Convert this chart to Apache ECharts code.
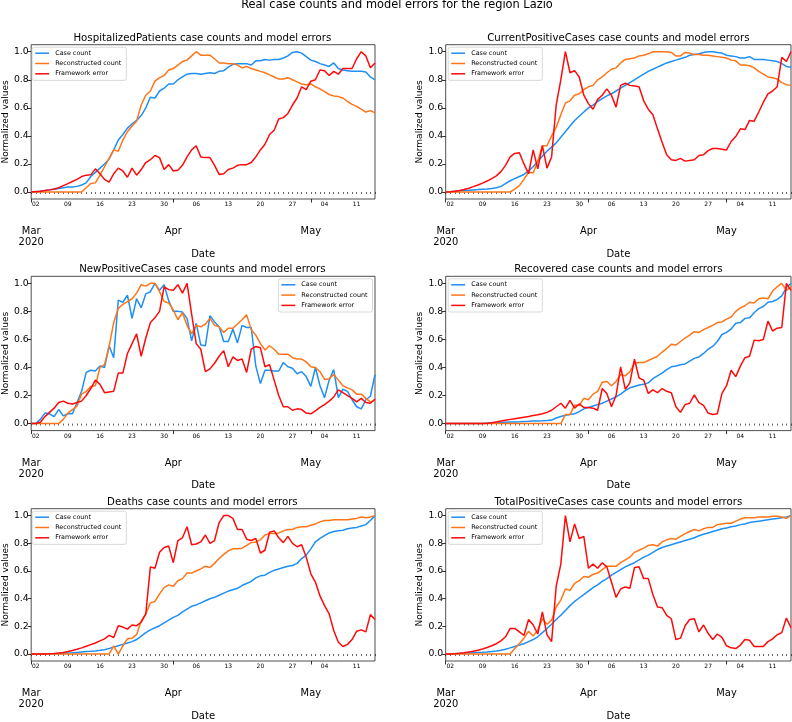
<!DOCTYPE html>
<html>
<head>
<meta charset="utf-8">
<script src="https://cdn.jsdelivr.net/npm/echarts@6/dist/echarts.min.js"></script>
<style>html,body{margin:0;padding:0;background:#fff}#chart{width:792px;height:722px}</style>
</head>
<body>
<div id="chart"></div>
<script>
// ---------------- data ----------------
const mainTitle = 'Real case counts and model errors for the region Lazio';
const panelTitles = [
  'HospitalizedPatients case counts and model errors',
  'CurrentPositiveCases case counts and model errors',
  'NewPositiveCases case counts and model errors',
  'Recovered case counts and model errors',
  'Deaths case counts and model errors',
  'TotalPositiveCases case counts and model errors'
];
const seriesNames = ['Case count', 'Reconstructed count', 'Framework error'];
const startDate = '2020-03-01';
const endDate = '2020-05-15';
const weekTickDates = ['2020-03-02','2020-03-09','2020-03-16','2020-03-23','2020-03-30','2020-04-06','2020-04-13','2020-04-20','2020-04-27','2020-05-04','2020-05-11'];
const weekTickLabels = ['02','09','16','23','30','06','13','20','27','04','11'];
const monthTickDates = ['2020-03-01','2020-04-01','2020-05-01'];
const monthTickLabels = ['Mar\n2020','Apr','May'];
const yTicks = [0, 0.2, 0.4, 0.6, 0.8, 1.0];

const hospCase = [0,0,0.005,0.01,0.015,0.02,0.025,0.03,0.035,0.035,
 0.04,0.05,0.065,0.11,0.14,0.17,0.20,0.235,0.30,0.37,
 0.41,0.455,0.485,0.51,0.545,0.60,0.675,0.67,0.72,0.74,
 0.77,0.77,0.80,0.82,0.84,0.845,0.845,0.84,0.845,0.85,
 0.845,0.86,0.865,0.89,0.91,0.915,0.915,0.915,0.905,0.935,
 0.935,0.945,0.94,0.945,0.945,0.955,0.97,0.995,1.0,0.99,
 0.965,0.94,0.93,0.915,0.905,0.895,0.92,0.88,0.87,0.865,
 0.86,0.86,0.86,0.855,0.82,0.80];
const hospRecon = [0,0,0,0,0,0,0,0,0,0,
 0,0,0.03,0.06,0.065,0.12,0.18,0.24,0.30,0.29,
 0.37,0.43,0.47,0.505,0.62,0.69,0.72,0.79,0.815,0.83,
 0.87,0.88,0.905,0.93,0.94,0.97,1.0,0.975,0.975,0.975,
 0.95,0.92,0.92,0.915,0.915,0.905,0.885,0.895,0.88,0.87,
 0.86,0.85,0.835,0.82,0.805,0.805,0.815,0.80,0.785,0.77,
 0.765,0.77,0.75,0.735,0.715,0.695,0.685,0.68,0.67,0.645,
 0.625,0.61,0.59,0.57,0.58,0.565];
const hospErr = [0,0.003,0.006,0.01,0.015,0.022,0.03,0.045,0.06,0.075,
 0.09,0.11,0.12,0.122,0.165,0.13,0.09,0.07,0.13,0.17,
 0.15,0.105,0.17,0.12,0.16,0.21,0.23,0.26,0.245,0.16,
 0.195,0.15,0.155,0.19,0.25,0.30,0.33,0.25,0.245,0.245,
 0.19,0.125,0.13,0.16,0.17,0.19,0.195,0.195,0.21,0.25,
 0.30,0.34,0.41,0.44,0.52,0.53,0.56,0.62,0.67,0.75,
 0.73,0.79,0.80,0.87,0.865,0.83,0.86,0.84,0.88,0.88,
 0.88,0.95,1.0,0.97,0.885,0.92];

const currCase = [0,0.002,0.005,0.008,0.01,0.012,0.015,0.017,0.02,0.022,
 0.025,0.03,0.04,0.06,0.08,0.095,0.11,0.125,0.15,0.18,
 0.22,0.255,0.29,0.32,0.35,0.39,0.43,0.47,0.51,0.54,
 0.57,0.60,0.62,0.645,0.665,0.685,0.70,0.72,0.74,0.76,
 0.78,0.80,0.82,0.84,0.86,0.875,0.89,0.905,0.92,0.93,
 0.94,0.95,0.96,0.975,0.98,0.985,0.995,1.0,1.0,0.995,
 0.99,0.975,0.97,0.965,0.955,0.955,0.965,0.945,0.945,0.945,
 0.94,0.935,0.93,0.915,0.895,0.89];
const currRecon = [0,0,0,0,0,0,0,0,0,0,
 0,0,0,0,0,0.02,0.045,0.09,0.14,0.135,
 0.22,0.33,0.33,0.40,0.46,0.55,0.635,0.65,0.69,0.70,
 0.73,0.75,0.76,0.80,0.82,0.85,0.875,0.885,0.92,0.945,
 0.95,0.955,0.97,0.975,0.985,1.0,1.0,1.0,1.0,0.995,
 0.97,0.97,0.995,0.99,0.98,0.98,0.975,0.975,0.97,0.965,
 0.96,0.955,0.94,0.935,0.905,0.905,0.9,0.885,0.86,0.84,
 0.82,0.815,0.805,0.78,0.765,0.76];
const currErr = [0,0.002,0.005,0.01,0.018,0.027,0.038,0.05,0.063,0.078,
 0.095,0.115,0.145,0.19,0.25,0.275,0.28,0.2,0.13,0.30,
 0.165,0.33,0.17,0.25,0.62,0.80,1.0,0.85,0.865,0.82,
 0.69,0.63,0.59,0.66,0.69,0.735,0.69,0.605,0.76,0.775,
 0.76,0.755,0.75,0.65,0.59,0.55,0.45,0.355,0.265,0.23,
 0.225,0.24,0.22,0.225,0.23,0.26,0.265,0.295,0.31,0.31,
 0.305,0.30,0.36,0.395,0.45,0.445,0.51,0.505,0.57,0.64,
 0.70,0.72,0.75,0.96,0.93,1.0];

const newCase = [0,0,0.03,0.075,0.07,0.05,0.10,0.055,0.07,0.07,
 0.15,0.23,0.365,0.38,0.375,0.41,0.40,0.555,0.47,0.88,
 0.865,0.915,0.75,0.89,0.825,0.925,0.94,1.0,0.95,0.99,
 0.875,0.80,0.80,0.795,0.75,0.59,0.715,0.56,0.555,0.77,
 0.725,0.69,0.585,0.585,0.675,0.575,0.70,0.685,0.685,0.41,
 0.285,0.38,0.38,0.375,0.375,0.435,0.405,0.395,0.355,0.37,
 0.335,0.265,0.40,0.27,0.185,0.31,0.385,0.185,0.245,0.23,
 0.17,0.12,0.105,0.17,0.195,0.35];
const newRecon = [0,0,0,0,0,0,0,0.03,0.075,0.10,
 0.125,0.21,0.23,0.265,0.27,0.40,0.42,0.55,0.72,0.82,
 0.85,0.87,0.89,0.93,0.99,0.98,1.0,1.0,0.94,0.87,
 0.86,0.81,0.74,0.79,0.70,0.64,0.70,0.69,0.71,0.75,
 0.70,0.69,0.65,0.68,0.68,0.71,0.74,0.775,0.67,0.63,
 0.57,0.525,0.555,0.53,0.495,0.495,0.495,0.47,0.46,0.46,
 0.44,0.405,0.40,0.37,0.315,0.32,0.35,0.31,0.27,0.255,
 0.24,0.21,0.21,0.18,0.155,0.165];
const newErr = [0,0,0.01,0.05,0.08,0.11,0.15,0.16,0.145,0.14,
 0.15,0.16,0.20,0.25,0.31,0.28,0.22,0.225,0.23,0.36,
 0.36,0.50,0.57,0.64,0.48,0.61,0.72,0.755,0.80,0.975,
 0.955,0.95,0.99,0.93,1.0,0.78,0.57,0.53,0.37,0.39,
 0.43,0.48,0.52,0.405,0.475,0.45,0.46,0.365,0.53,0.55,
 0.54,0.405,0.42,0.31,0.20,0.12,0.12,0.095,0.105,0.10,
 0.075,0.07,0.09,0.115,0.135,0.16,0.19,0.24,0.22,0.20,
 0.18,0.155,0.18,0.15,0.145,0.175];

const recCase = [0,0,0,0,0,0,0,0,0,
 0.002,0.004,0.006,0.008,0.01,0.011,0.012,0.013,0.015,0.016,0.018,0.019,0.02,0.022,
 0.025,0.04,0.05,0.06,0.065,0.07,0.085,
 0.105,0.115,0.125,0.135,0.145,0.16,0.175,0.19,0.21,0.235,
 0.255,0.265,0.275,0.28,0.29,0.32,0.34,0.36,0.385,0.405,
 0.41,0.42,0.425,0.445,0.465,0.475,0.50,0.53,0.55,0.585,
 0.635,0.65,0.675,0.715,0.72,0.75,0.755,0.79,0.82,0.835,
 0.865,0.87,0.885,0.91,0.97,1.0];
const recRecon = [0,0,0,0,0,0,0,0,0,0,0,0,0,0,0,0,0,0,0,0,0,0,0,0,0,0,
 0.065,0.065,0.13,0.13,
 0.18,0.17,0.21,0.23,0.295,0.30,0.27,0.30,0.35,0.34,
 0.37,0.43,0.435,0.435,0.45,0.465,0.48,0.51,0.535,0.565,
 0.56,0.585,0.61,0.63,0.655,0.65,0.67,0.685,0.70,0.72,
 0.725,0.745,0.76,0.80,0.825,0.84,0.865,0.86,0.89,0.895,
 0.89,0.945,0.975,1.0,0.95,0.975];
const recErr = [0,0,0,0,0,0,0,0,0,
 0.002,0.006,0.012,0.018,0.024,0.03,0.035,0.04,0.045,0.05,0.057,0.063,0.07,
 0.08,0.095,0.12,0.145,0.11,0.165,0.11,0.14,
 0.115,0.115,0.11,0.095,0.25,0.215,0.12,0.20,0.405,0.245,
 0.29,0.46,0.325,0.31,0.215,0.24,0.22,0.25,0.23,0.22,
 0.12,0.08,0.135,0.145,0.205,0.15,0.13,0.075,0.065,0.07,
 0.215,0.27,0.38,0.335,0.41,0.47,0.48,0.595,0.59,0.60,
 0.73,0.66,0.68,0.685,1.0,0.95];

const deathCase = [0,0,0,0.001,0.002,0.003,0.004,0.005,0.007,0.009,
 0.012,0.015,0.018,0.02,0.023,0.027,0.032,0.04,0.05,0.06,
 0.07,0.08,0.09,0.105,0.13,0.155,0.175,0.19,0.205,0.225,
 0.245,0.265,0.28,0.305,0.325,0.345,0.355,0.37,0.385,0.40,
 0.41,0.425,0.44,0.455,0.465,0.475,0.495,0.51,0.525,0.55,
 0.565,0.57,0.59,0.605,0.615,0.625,0.635,0.64,0.655,0.69,
 0.715,0.76,0.81,0.835,0.855,0.875,0.885,0.89,0.895,0.905,
 0.91,0.915,0.925,0.935,0.965,1.0];
const deathRecon = [0,0,0,0,0,0,0,0,0,0,0,0,0,0,0,0,0,0,
 0.06,0.0,
 0.06,0.11,0.115,0.14,0.24,0.29,0.37,0.38,0.435,0.48,
 0.50,0.49,0.53,0.545,0.585,0.585,0.60,0.615,0.635,0.625,
 0.655,0.69,0.72,0.745,0.76,0.76,0.765,0.785,0.805,0.81,
 0.825,0.86,0.87,0.87,0.875,0.89,0.90,0.90,0.915,0.92,
 0.92,0.93,0.94,0.955,0.965,0.965,0.97,0.97,0.97,0.97,
 0.975,0.98,0.99,0.985,0.99,1.0];
const deathErr = [0,0,0,0.001,0.002,0.004,0.007,0.012,0.018,0.026,
 0.035,0.045,0.056,0.068,0.08,0.095,0.11,0.135,0.12,0.205,
 0.195,0.18,0.21,0.205,0.23,0.29,0.63,0.62,0.735,0.77,
 0.78,0.66,0.82,0.84,0.92,0.79,0.795,0.81,0.86,0.80,
 0.82,0.95,1.0,1.0,0.98,0.90,0.90,0.83,0.82,0.835,
 0.73,0.75,0.88,0.89,0.84,0.805,0.85,0.80,0.775,0.79,
 0.70,0.58,0.52,0.42,0.35,0.29,0.17,0.085,0.055,0.07,
 0.105,0.165,0.175,0.16,0.285,0.25];

const totCase = [0,0.001,0.002,0.004,0.006,0.008,0.01,0.012,0.013,0.015,
 0.018,0.022,0.028,0.035,0.045,0.055,0.065,0.075,0.09,0.105,
 0.125,0.155,0.185,0.215,0.25,0.28,0.315,0.35,0.38,0.405,
 0.43,0.455,0.48,0.50,0.525,0.545,0.57,0.59,0.61,0.63,
 0.645,0.66,0.68,0.70,0.715,0.735,0.755,0.77,0.78,0.79,
 0.80,0.81,0.82,0.83,0.84,0.855,0.865,0.875,0.885,0.895,
 0.905,0.91,0.92,0.925,0.935,0.94,0.95,0.955,0.96,0.965,
 0.97,0.975,0.98,0.985,0.99,1.0];
const totRecon = [0,0,0,0,0,0,0,0,0,0,0,0,0,0,0,
 0.04,0.075,0.115,0.165,0.13,
 0.175,0.255,0.215,0.245,0.34,0.39,0.47,0.46,0.51,0.53,
 0.56,0.555,0.575,0.585,0.61,0.635,0.635,0.635,0.66,0.68,
 0.70,0.735,0.75,0.765,0.785,0.79,0.78,0.81,0.825,0.835,
 0.83,0.85,0.87,0.885,0.90,0.89,0.905,0.915,0.915,0.935,
 0.94,0.945,0.945,0.96,0.975,0.985,0.985,0.985,0.99,0.99,
 0.99,0.995,0.995,0.99,0.98,1.0];
const totErr = [0,0.001,0.003,0.006,0.01,0.015,0.02,0.028,0.037,0.047,
 0.06,0.075,0.095,0.125,0.185,0.185,0.16,0.135,0.25,0.21,
 0.145,0.305,0.14,0.09,0.49,0.65,1.0,0.81,0.94,0.835,
 0.85,0.62,0.65,0.62,0.66,0.63,0.52,0.41,0.47,0.485,
 0.475,0.625,0.63,0.545,0.545,0.43,0.34,0.335,0.28,0.255,
 0.105,0.115,0.205,0.25,0.255,0.16,0.21,0.15,0.105,0.145,
 0.12,0.06,0.045,0.04,0.065,0.105,0.10,0.055,0.055,0.055,
 0.09,0.11,0.14,0.155,0.26,0.19];

// ---------------- build ----------------
const dates = [];
(function () {
  const d = new Date(startDate + 'T00:00:00Z');
  const end = new Date(endDate + 'T00:00:00Z');
  while (d <= end) { dates.push(d.toISOString().slice(0, 10)); d.setUTCDate(d.getUTCDate() + 1); }
})();

const panelData = [
  [hospCase, hospRecon, hospErr],
  [currCase, currRecon, currErr],
  [newCase, newRecon, newErr],
  [recCase, recRecon, recErr],
  [deathCase, deathRecon, deathErr],
  [totCase, totRecon, totErr]
];
const legendOnRight = [false, false, true, false, false, false];

const FONT = 'DejaVu Sans';
const colors = ['#1e8ff5', '#ff7518', '#ff0a0a'];
const colLeft = [29.7, 445.7];
const rowTop = [44.7, 276.3, 508.7];
const W = 345.3, H = 154.3;

const option = {
  animation: false,
  backgroundColor: '#fff',
  textStyle: { fontFamily: FONT },
  title: [], grid: [], xAxis: [], yAxis: [], legend: [], series: []
};

option.title.push({
  text: mainTitle, left: 397, top: 0, textAlign: 'center', padding: 0,
  textStyle: { fontSize: 11.4, fontWeight: 'normal', color: '#000', fontFamily: FONT }
});

panelData.forEach((arrs, g) => {
  const c = g % 2, r = Math.floor(g / 2);
  const left = colLeft[c], top = rowTop[r];
  option.title.push({
    text: panelTitles[g], left: left + W / 2, top: top - 11.5, textAlign: 'center', padding: 0,
    textStyle: { fontSize: 10.2, fontWeight: 'normal', color: '#000', fontFamily: FONT }
  });
  option.grid.push({
    left: left, top: top, width: W, height: H, containLabel: false,
    show: true, borderColor: '#222', borderWidth: 0.8, backgroundColor: 'transparent'
  });
  // day axis (minor ticks + weekly labels)
  option.xAxis.push({
    type: 'category', gridIndex: g, data: dates, boundaryGap: false,
    axisLine: { show: false },
    axisTick: { show: true, interval: 0, length: 2, lineStyle: { color: '#000', width: 0.6 } },
    axisLabel: {
      interval: (i, v) => weekTickDates.indexOf(v) >= 0,
      formatter: v => weekTickLabels[weekTickDates.indexOf(v)],
      fontSize: 6, margin: 2.5, color: '#000', fontFamily: FONT
    },
    splitLine: { show: false },
    name: 'Date', nameLocation: 'middle', nameGap: 50,
    nameTextStyle: { fontSize: 10, color: '#000', fontFamily: FONT }
  });
  // month axis (major ticks + month labels)
  option.xAxis.push({
    type: 'category', gridIndex: g, data: dates, boundaryGap: false, position: 'bottom',
    axisLine: { show: false },
    axisTick: { show: true, interval: (i, v) => monthTickDates.indexOf(v) >= 0, length: 3.5, lineStyle: { color: '#000', width: 0.8 } },
    axisLabel: {
      interval: (i, v) => monthTickDates.indexOf(v) >= 0,
      formatter: v => monthTickLabels[monthTickDates.indexOf(v)],
      fontSize: 9.9, lineHeight: 11, margin: 27, color: '#000', fontFamily: FONT
    },
    splitLine: { show: false }
  });
  option.yAxis.push({
    type: 'value', gridIndex: g, min: -0.05, max: 1.05,
    axisLine: { show: false },
    axisTick: { show: true, length: 3.5, customValues: yTicks, lineStyle: { color: '#000', width: 0.8 } },
    axisLabel: { customValues: yTicks, formatter: v => v.toFixed(1), fontSize: 9.3, margin: 2.5, color: '#000', fontFamily: FONT },
    splitLine: { show: false },
    name: 'Normalized values', nameLocation: 'middle', nameGap: 21,
    nameTextStyle: { fontSize: 9, color: '#000', fontFamily: FONT }
  });
  const lg = {
    orient: 'vertical', top: top + 2.5,
    data: seriesNames, icon: 'rect', itemWidth: 14, itemHeight: 1.5, itemGap: 2.3,
    padding: [2, 5, 2.6, 3], borderColor: '#cfcfcf', borderWidth: 0.8, borderRadius: 2,
    backgroundColor: 'rgba(255,255,255,0.8)', selectedMode: false,
    textStyle: { fontSize: 6.4, lineHeight: 8, color: '#000', fontFamily: FONT, padding: [0, 0, 0, 1] }
  };
  if (legendOnRight[g]) lg.right = 792 - (left + W - 2.5); else lg.left = left + 2.5;
  option.legend.push(lg);
  arrs.forEach((arr, k) => {
    option.series.push({
      name: seriesNames[k], type: 'line', xAxisIndex: 2 * g, yAxisIndex: g,
      data: arr, showSymbol: false, symbol: 'none', smooth: false,
      lineStyle: { width: 1.5, color: colors[k] }, itemStyle: { color: colors[k] },
      z: 2 + k, silent: true
    });
  });
});

const chart = echarts.init(document.getElementById('chart'), null, { renderer: 'canvas' });
chart.setOption(option);
</script>
</body>
</html>
